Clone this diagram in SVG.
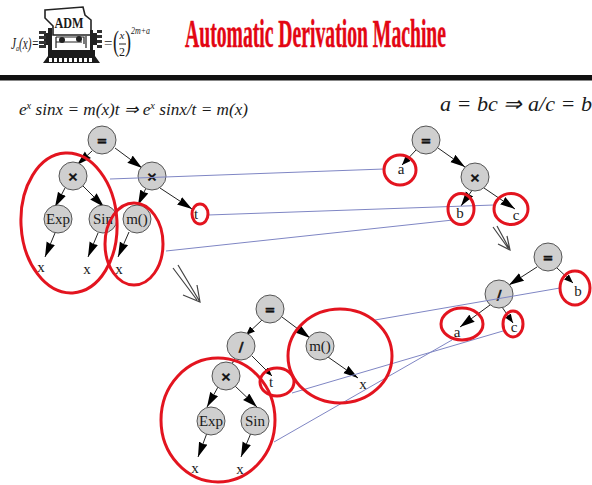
<svg xmlns="http://www.w3.org/2000/svg" width="592" height="485" viewBox="0 0 592 485">
<style>
text{font-family:"Liberation Serif","Times New Roman",serif;fill:#1a1a1a}
.n{fill:#cfcfcf;stroke:#555;stroke-width:1}
.l{font-size:15px;text-anchor:middle}
.o{font-size:13px;font-weight:bold;text-anchor:middle;font-family:"DejaVu Sans",sans-serif;fill:#111;stroke:#111;stroke-width:.5}
.e{stroke:#222;stroke-width:1;fill:none;marker-end:url(#a)}
.s{stroke:#222;stroke-width:1;fill:none;marker-end:url(#b)}
.b{stroke:#7f86c4;stroke-width:1;fill:none}
.r{stroke:#e3141f;stroke-width:3;fill:none}
.d{stroke:#444;stroke-width:1.2;fill:none}
.m{font-style:italic;font-size:16.5px}
</style>
<defs>
<marker id="a" markerUnits="userSpaceOnUse" markerWidth="16" markerHeight="10" refX="15" refY="4.5" orient="auto"><path d="M0 0L15 4.5L0 9L1 4.5Z" fill="#000"/></marker>
<marker id="b" markerUnits="userSpaceOnUse" markerWidth="10" markerHeight="8" refX="9" refY="3.5" orient="auto"><path d="M0 0L9 3.5L0 7Z" fill="#000"/></marker>
</defs>
<rect width="592" height="485" fill="#fff"/>
<g id="logo">
<path d="M45 10L83 7L85 15L91 20L91 35H53V26L45 18Z" fill="#fff" stroke="#222" stroke-width="1.6"/>
<text x="69" y="28" font-size="14" font-weight="bold" text-anchor="middle" textLength="29" lengthAdjust="spacingAndGlyphs">ADM</text>
<path d="M48 28H52V50H48ZM44 33H52V45H44ZM92 33H97V45H92ZM90 30H93V50H90Z" fill="#222"/>
<path d="M39 31H46V34H39ZM39 36H46V39H39ZM39 41H46V44H39ZM39 45H46V48H39ZM97 30H102V33H97ZM97 35H102V38H97ZM97 40H102V43H97ZM97 45H102V48H97Z" fill="#333"/>
<path d="M56 37H84V44M56 42H82M56 37V48M86 36V48" fill="none" stroke="#222" stroke-width="1.2"/>
<circle cx="62" cy="40" r="3" fill="#222"/><circle cx="79" cy="39" r="3" fill="#222"/>
<path d="M48 50H95V56L100 63H43L48 56Z" fill="#1c1c1c"/>
<path d="M49 58h3v4h-3zM54 58h3v4h-3zM59 58h3v4h-3zM64 58h3v4h-3zM69 58h3v4h-3zM74 58h3v4h-3zM79 58h3v4h-3zM84 58h3v4h-3zM89 58h3v4h-3z" fill="#fff"/>
<text x="11" y="49" font-size="17" font-style="italic" textLength="28" lengthAdjust="spacingAndGlyphs">J<tspan font-size="9" dy="2">a</tspan><tspan dy="-2">(x)=</tspan></text>
<text x="104" y="48" font-size="15">=</text>
<text x="113" y="51" font-size="30" textLength="6" lengthAdjust="spacingAndGlyphs">(</text>
<text x="122" y="39" font-size="11" font-style="italic" text-anchor="middle">x</text>
<path d="M119 44H126" stroke="#222"/>
<text x="122" y="56" font-size="12" text-anchor="middle">2</text>
<text x="125" y="51" font-size="30" textLength="6" lengthAdjust="spacingAndGlyphs">)</text>
<text x="131" y="34" font-size="11" font-style="italic" textLength="19" lengthAdjust="spacingAndGlyphs">2m+a</text>
</g>
<text id="title" x="185" y="47" font-size="40" font-weight="bold" textLength="261" lengthAdjust="spacingAndGlyphs" style="fill:#e30613;stroke:#e30613;stroke-width:.5">Automatic Derivation Machine</text>
<rect x="0" y="75" width="592" height="5.5" fill="#111"/>
<text class="m" x="19" y="115" textLength="229" lengthAdjust="spacingAndGlyphs">e<tspan font-size="10" dy="-6">x</tspan><tspan dy="6"> sinx = m(x)t ⇒ e</tspan><tspan font-size="10" dy="-6">x</tspan><tspan dy="6"> sinx/t = m(x)</tspan></text>
<text class="m" x="440" y="111" style="font-size:21px" textLength="152" lengthAdjust="spacingAndGlyphs">a = bc ⇒ a/c = b</text>

<g id="connectors">
<path class="e" d="M92 151L77 165"/><path class="e" d="M115 148L142 168"/>
<path class="e" d="M65 188L55 207"/><path class="e" d="M83 186L104 207"/>
<path class="e" d="M146 188L138 205"/><path class="e" d="M160 188L192 209"/>
<path class="e" d="M55 233L45 257"/><path class="e" d="M98 233L88 257"/><path class="e" d="M129 232L118 257"/>
<path class="s" d="M416 150L402 165"/><path class="e" d="M438 148L465 167"/>
<path class="e" d="M473 189L461 206"/><path class="e" d="M484 188L515 209"/>
<path class="e" d="M537 267L509 285"/><path class="s" d="M557 268L573 283"/>
<path class="e" d="M490 305L460 327"/><path class="s" d="M502 307L513 323"/>
<path class="s" d="M262 320L246 335"/><path class="e" d="M282 317L310 338"/>
<path class="d" d="M235 358L232 364"/><path class="s" d="M252 356L272 376"/>
<path class="e" d="M218 387L207 407"/><path class="e" d="M235 386L257 407"/>
<path class="e" d="M328 357L358 378"/>
<path class="e" d="M207 433L198 457"/><path class="e" d="M251 433L241 457"/>
</g>

<g id="n1"><circle class="n" cx="102" cy="140" r="14"/><text class="o" x="102" y="145">=</text></g>
<g id="n2"><circle class="n" cx="73" cy="176" r="14"/><text class="o" x="73" y="181">×</text></g>
<g id="n3"><circle class="n" cx="152" cy="176" r="14"/><text class="o" x="152" y="181">×</text></g>
<g id="n4"><circle class="n" cx="58" cy="219" r="14"/><text class="l" x="58" y="224">Exp</text></g>
<g id="n5"><circle class="n" cx="103" cy="219" r="14"/><text class="l" x="103" y="224">Sin</text></g>
<g id="n6"><circle class="n" cx="137" cy="219" r="14"/><text class="l" x="137" y="224">m()</text></g>
<g id="n7"><text class="l" x="196" y="219">t</text></g>
<g id="n8"><text class="l" x="41" y="272">x</text></g>
<g id="n9"><text class="l" x="87" y="274">x</text></g>
<g id="n10"><text class="l" x="119" y="274">x</text></g>

<g id="n11"><circle class="n" cx="426" cy="140" r="14"/><text class="o" x="426" y="145">=</text></g>
<g id="n12"><text class="l" x="401" y="174">a</text></g>
<g id="n13"><circle class="n" cx="475" cy="177" r="14"/><text class="o" x="475" y="182">×</text></g>
<g id="n14"><text class="l" x="460" y="218">b</text></g>
<g id="n15"><text class="l" x="516" y="220">c</text></g>

<g id="n16"><circle class="n" cx="548" cy="257" r="14"/><text class="o" x="548" y="262">=</text></g>
<g id="n17"><circle class="n" cx="499" cy="294" r="14"/><text class="o" x="499" y="299">/</text></g>
<g id="n18"><text class="l" x="578" y="296">b</text></g>
<g id="n19"><text class="l" x="457" y="337">a</text></g>
<g id="n20"><text class="l" x="514" y="332">c</text></g>

<g id="n21"><circle class="n" cx="270" cy="309" r="14"/><text class="o" x="270" y="314">=</text></g>
<g id="n22"><circle class="n" cx="241" cy="346" r="14"/><text class="o" x="241" y="351">/</text></g>
<g id="n23"><circle class="n" cx="226" cy="376" r="14"/><text class="o" x="226" y="381">×</text></g>
<g id="n24"><circle class="n" cx="320" cy="346" r="14"/><text class="l" x="320" y="351">m()</text></g>
<g id="n25"><circle class="n" cx="211" cy="421" r="14"/><text class="l" x="211" y="426">Exp</text></g>
<g id="n26"><circle class="n" cx="255" cy="421" r="14"/><text class="l" x="255" y="426">Sin</text></g>
<g id="n27"><text class="l" x="271" y="387">t</text></g>
<g id="n28"><text class="l" x="363" y="389">x</text></g>
<g id="n29"><text class="l" x="195" y="473">x</text></g>
<g id="n30"><text class="l" x="240" y="474">x</text></g>

<g id="links">
<path class="b" d="M110 179L384 169"/><path class="b" d="M208 215L494 205"/><path class="b" d="M166 251L453 220"/>
<path class="b" d="M375 320L560 288"/><path class="b" d="M292 393L503 331"/><path class="b" d="M274 442L452 340"/>
</g>
<g id="marks">
<ellipse class="r" cx="69" cy="223" rx="48" ry="70" transform="rotate(-3 69 223)"/>
<ellipse class="r" cx="134" cy="244" rx="29" ry="41"/>
<ellipse class="r" cx="200" cy="214" rx="8" ry="10"/>
<ellipse class="r" cx="400" cy="170" rx="16" ry="15"/>
<ellipse class="r" cx="461" cy="209" rx="13" ry="15.5"/>
<ellipse class="r" cx="511" cy="209" rx="17" ry="15.5"/>
<ellipse class="r" cx="575" cy="288" rx="15" ry="17"/>
<ellipse class="r" cx="462" cy="324" rx="21" ry="16"/>
<ellipse class="r" cx="513" cy="324" rx="10" ry="13"/>
<ellipse class="r" cx="218" cy="420" rx="57" ry="62"/>
<ellipse class="r" cx="277" cy="382" rx="17" ry="14"/>
<ellipse class="r" cx="340" cy="356" rx="52" ry="47"/>
</g>
<g id="steps">
<path class="d" d="M173 268L197 300M178 265L200 302M183 295L200 302L197 285"/>
<path class="d" d="M493 227L508 248M497 226L510 250M498 244L510 250L507 236"/>
</g>
</svg>
